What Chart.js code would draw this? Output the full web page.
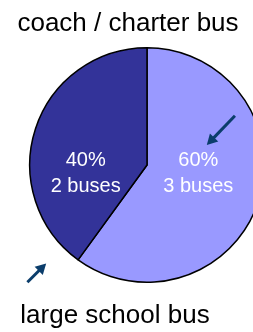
<!DOCTYPE html>
<html>
<head>
<meta charset="utf-8">
<script src="https://cdn.jsdelivr.net/npm/chart.js@4/dist/chart.umd.min.js"></script>
<style>
  html, body { margin: 0; padding: 0; background: #fff; overflow: hidden; }
  #wrap { width: 300px; height: 332px; }
</style>
</head>
<body>
<div id="wrap"><canvas id="chart" width="300" height="332"></canvas></div>
<script>
// chart values
const categories = ["coach / charter bus", "large school bus"];
const busCounts = [3, 2];
const unitLabel = "buses";
const sliceColors = ["#9999FF", "#333399"];

// label layout (outside the data)
const innerLabelRadius = [0.46, 0.55];
const FONT = "'Liberation Sans', Arial, sans-serif";
const ARROW_COLOR = "#0B3D6B";

function drawArrow(ctx, x1, y1, x2, y2) {
    const ang = Math.atan2(y2 - y1, x2 - x1);
    const head = 12;
    ctx.save();
    ctx.strokeStyle = ARROW_COLOR;
    ctx.fillStyle = ARROW_COLOR;
    ctx.lineWidth = 3;
    ctx.beginPath();
    ctx.moveTo(x1, y1);
    ctx.lineTo(x2 - Math.cos(ang) * head * 0.8, y2 - Math.sin(ang) * head * 0.8);
    ctx.stroke();
    ctx.beginPath();
    ctx.moveTo(x2, y2);
    ctx.lineTo(x2 - head * Math.cos(ang - 0.5), y2 - head * Math.sin(ang - 0.5));
    ctx.lineTo(x2 - head * Math.cos(ang + 0.5), y2 - head * Math.sin(ang + 0.5));
    ctx.closePath();
    ctx.fill();
    ctx.restore();
}

const labelPlugin = {
    id: "busLabels",
    afterDatasetsDraw(chart) {
        const ctx = chart.ctx;
        const arcs = chart.getDatasetMeta(0).data;
        const total = busCounts.reduce((a, b) => a + b, 0);
        const cx = arcs[0].x, cy = arcs[0].y, r = arcs[0].outerRadius;

        ctx.save();
        ctx.textAlign = "center";
        ctx.textBaseline = "middle";
        ctx.fillStyle = "#fff";
        ctx.font = "20px " + FONT;
        arcs.forEach((arc, i) => {
            const mid = (arc.startAngle + arc.endAngle) / 2;
            const lx = cx + Math.cos(mid) * r * innerLabelRadius[i];
            const ly = cy + 8;
            const pct = Math.round(busCounts[i] / total * 100) + "%";
            ctx.fillText(pct, lx, ly - 13);
            ctx.fillText(busCounts[i] + " " + unitLabel, lx, ly + 13);
        });

        // category names
        ctx.fillStyle = "#000";
        ctx.font = "26px " + FONT;
        ctx.fillText(categories[0], cx - 19, cy - r - 24);
        ctx.fillText(categories[1], cx - 32, cy + r + 34);
        ctx.restore();

        // arrows
        drawArrow(ctx, cx + r * 0.75, cy - r * 0.42, cx + r * 0.51, cy - r * 0.17);
        drawArrow(ctx, cx - r * 1.02, cy + r * 1.0, cx - r * 0.86, cy + r * 0.84);
    }
};

new Chart(document.getElementById("chart"), {
    type: "pie",
    data: {
        labels: categories,
        datasets: [{
            data: busCounts,
            backgroundColor: sliceColors,
            borderColor: "#000",
            borderWidth: 1.5,
        }],
    },
    options: {
        responsive: false,
        animation: false,
        layout: { padding: { left: 29, right: 35, top: 47, bottom: 49 } },
        plugins: {
            legend: { display: false },
            tooltip: { enabled: false },
            title: { display: false },
        },
    },
    plugins: [labelPlugin],
});
</script>
</body>
</html>
